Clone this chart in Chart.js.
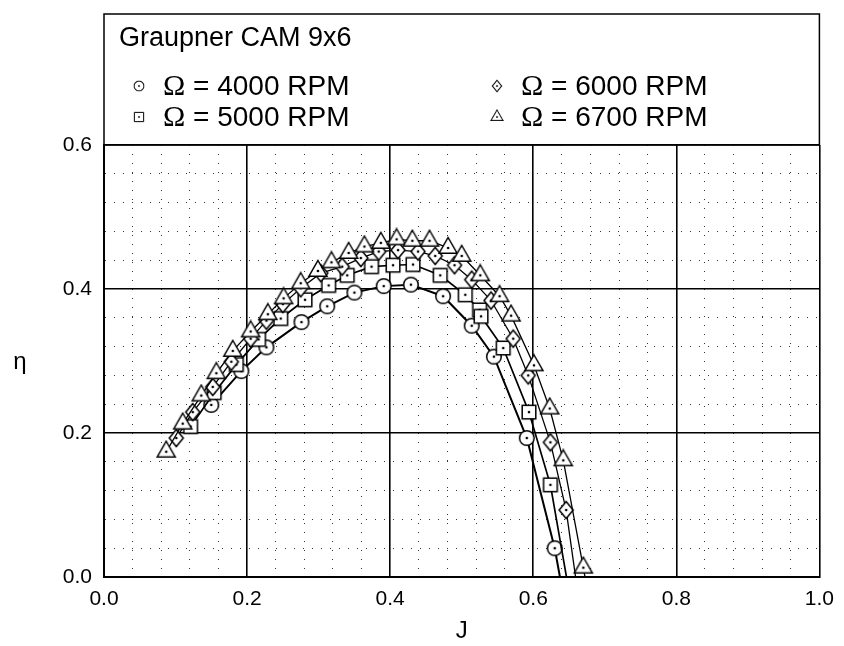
<!DOCTYPE html>
<html>
<head>
<meta charset="utf-8">
<script src="https://cdn.jsdelivr.net/npm/chart.js"></script>
<style>
    html, body { margin: 0; padding: 0; background: #fff; }
</style>
</head>
<body>
<canvas id="chart" width="844" height="646"></canvas>
<script>
const legendTitle = "Graupner CAM 9x6";
const seriesLabels = ["4000 RPM", "5000 RPM", "6000 RPM", "6700 RPM"];
const seriesShapes = ["circle", "square", "diamond", "triangle"];

// circles
const j4000 = [0.150, 0.192, 0.227, 0.276, 0.312, 0.350, 0.391, 0.429, 0.474, 0.514, 0.545, 0.591, 0.630, 0.641];
const eta4000 = [0.239, 0.286, 0.319, 0.354, 0.376, 0.395, 0.404, 0.406, 0.390, 0.349, 0.306, 0.193, 0.040, -0.020];
// squares
const j5000 = [0.121, 0.154, 0.185, 0.216, 0.247, 0.281, 0.314, 0.340, 0.374, 0.404, 0.432, 0.470, 0.505, 0.525, 0.527, 0.558, 0.594, 0.624, 0.650];
const eta5000 = [0.209, 0.256, 0.295, 0.330, 0.359, 0.385, 0.405, 0.419, 0.431, 0.433, 0.434, 0.419, 0.392, 0.371, 0.362, 0.318, 0.229, 0.128, -0.020];
// diamonds
const j6000 = [0.101, 0.124, 0.152, 0.178, 0.205, 0.227, 0.250, 0.275, 0.303, 0.333, 0.359, 0.384, 0.411, 0.439, 0.463, 0.490, 0.514, 0.541, 0.572, 0.593, 0.624, 0.646, 0.662];
const eta6000 = [0.193, 0.229, 0.264, 0.299, 0.331, 0.356, 0.379, 0.401, 0.422, 0.431, 0.443, 0.452, 0.454, 0.452, 0.446, 0.433, 0.413, 0.384, 0.331, 0.280, 0.187, 0.093, -0.020];
// triangles
const j6700 = [0.087, 0.110, 0.136, 0.157, 0.180, 0.205, 0.229, 0.251, 0.275, 0.299, 0.318, 0.342, 0.364, 0.387, 0.409, 0.431, 0.455, 0.481, 0.500, 0.526, 0.553, 0.569, 0.601, 0.623, 0.642, 0.670, 0.676];
const eta6700 = [0.174, 0.213, 0.252, 0.283, 0.314, 0.341, 0.365, 0.387, 0.408, 0.425, 0.437, 0.450, 0.459, 0.464, 0.469, 0.467, 0.467, 0.457, 0.446, 0.419, 0.390, 0.363, 0.294, 0.234, 0.162, 0.013, -0.020];

const xMax = 1.0;
const yMax = 0.6;
const majorStep = 0.2;
const minorStep = 0.04;

const sans = "'Liberation Sans', Arial, sans-serif";
const serif = "'Liberation Serif', 'Times New Roman', serif";

function makeMarker(shape) {
    const c = document.createElement("canvas");
    c.width = 24;
    c.height = 24;
    const g = c.getContext("2d");
    g.translate(12, 12);
    g.lineWidth = 1.5;
    g.strokeStyle = "#000";
    g.fillStyle = "#fff";
    g.beginPath();
    if (shape === "circle") {
        g.arc(0, 0, 7.3, 0, Math.PI * 2);
    } else if (shape === "square") {
        g.rect(-6.8, -6.8, 13.6, 13.6);
    } else if (shape === "diamond") {
        g.moveTo(0, -8.5); g.lineTo(7, 0); g.lineTo(0, 8.5); g.lineTo(-7, 0); g.closePath();
    } else {
        g.moveTo(0, -10.5); g.lineTo(9, 5.2); g.lineTo(-9, 5.2); g.closePath();
    }
    g.fill();
    g.stroke();
    g.beginPath();
    g.arc(0, 0, 1.3, 0, Math.PI * 2);
    g.fillStyle = "#000";
    g.fill();
    return c;
}

const markers = seriesShapes.map(makeMarker);
const isMajor = (v) => Math.abs(v / majorStep - Math.round(v / majorStep)) < 1e-6;
const toPoints = (js, etas) => js.map((j, i) => ({ x: j, y: etas[i] }));

const seriesData = [
    toPoints(j4000, eta4000),
    toPoints(j5000, eta5000),
    toPoints(j6000, eta6000),
    toPoints(j6700, eta6700),
];
const lineWidths = [2, 1.7, 1.3, 1.3];

const legendBox = {
    id: "legendBox",
    afterDraw(chart) {
        const { ctx, chartArea: a } = chart;
        const top = 14;
        ctx.save();
        ctx.strokeStyle = "#000";
        ctx.lineWidth = 1.5;
        ctx.strokeRect(a.left, top, a.right - a.left, a.top - top);

        ctx.fillStyle = "#000";
        ctx.textBaseline = "middle";
        ctx.textAlign = "left";
        ctx.font = "27px " + sans;
        ctx.fillText(legendTitle, a.left + 15, 39);

        const cols = [a.left + 35, a.left + 393];
        const rows = [86, 117];
        seriesLabels.forEach((label, i) => {
            const cx = cols[Math.floor(i / 2)];
            const cy = rows[i % 2];
            ctx.drawImage(markers[i], cx - 8, cy - 8, 16, 16);
            ctx.font = "30px " + serif;
            ctx.fillText("\u03A9", cx + 24, cy + 1);
            const w = ctx.measureText("\u03A9").width;
            ctx.font = "28px " + sans;
            ctx.fillText(" = " + label, cx + 24 + w, cy + 1);
        });

        // y axis title, upright
        ctx.font = "24px " + sans;
        ctx.textAlign = "center";
        ctx.fillText("\u03B7", 20, 362);
        ctx.restore();
    },
};

const gridColor = (c) => (isMajor(c.tick.value) ? "#000" : "#333");
const gridWidth = (c) => (isMajor(c.tick.value) ? 1.6 : 1);
const gridDash = (c) => (c.tick && isMajor(c.tick.value) ? [] : [1, 8]);

const chart = new Chart(document.getElementById("chart"), {
    type: "scatter",
    data: {
        datasets: seriesData.map((pts, i) => ({
            label: seriesLabels[i],
            data: pts,
            showLine: true,
            borderColor: "#000",
            borderWidth: lineWidths[i],
            pointStyle: markers[i],
            pointRadius: 7,
            pointHoverRadius: 7,
            order: 3 - i,
            clip: { left: false, right: false, top: false, bottom: 0 },
        })),
    },
    options: {
        responsive: false,
        animation: false,
        events: [],
        layout: { padding: { top: 145, right: 22, bottom: 0, left: 0 } },
        plugins: {
            legend: { display: false },
            tooltip: { enabled: false },
        },
        scales: {
            x: {
                type: "linear",
                min: 0,
                max: xMax,
                ticks: {
                    stepSize: minorStep,
                    autoSkip: false,
                    maxRotation: 0,
                    color: "#000",
                    padding: 10,
                    font: { family: sans, size: 21 },
                    callback: (v) => (isMajor(v) ? v.toFixed(1) : ""),
                },
                grid: { color: gridColor, lineWidth: gridWidth, drawTicks: false },
                border: { color: "#000", width: 2, dash: gridDash },
                title: {
                    display: true,
                    text: "J",
                    color: "#000",
                    font: { family: sans, size: 24 },
                    padding: { top: 0, bottom: 0 },
                },
                afterFit(s) { s.height = 69; },
            },
            y: {
                type: "linear",
                min: 0,
                max: yMax,
                ticks: {
                    stepSize: minorStep,
                    autoSkip: false,
                    color: "#000",
                    padding: 12,
                    font: { family: sans, size: 21 },
                    callback: (v) => (isMajor(v) ? v.toFixed(1) : ""),
                },
                grid: { color: gridColor, lineWidth: gridWidth, drawTicks: false },
                border: { color: "#000", width: 2, dash: gridDash },
                afterFit(s) { s.width = 104; },
            },
        },
    },
    plugins: [legendBox],
});
</script>
</body>
</html>
